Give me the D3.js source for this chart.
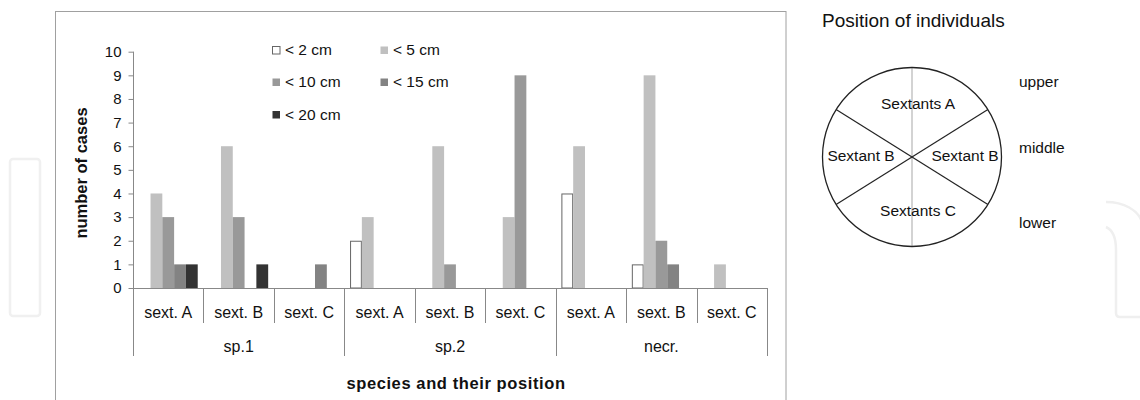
<!DOCTYPE html>
<html>
<head>
<meta charset="utf-8">
<script src="https://cdn.jsdelivr.net/npm/d3@7"></script>
<style>
html,body{margin:0;padding:0;background:#fff;}
svg{display:block;font-family:"Liberation Sans",Arial,sans-serif;}
</style>
</head>
<body>
<svg id="chart" width="1140" height="400"></svg>
<script>
const groups = ["sp.1", "sp.2", "necr."];
const positions = ["sext. A", "sext. B", "sext. C"];
const seriesNames = ["< 2 cm", "< 5 cm", "< 10 cm", "< 15 cm", "< 20 cm"];
const seriesColors = ["#ffffff", "#c0c0c0", "#999999", "#838383", "#333333"];
const lt2  = [0, 0, 0, 2, 0, 0, 4, 1, 0];
const lt5  = [4, 6, 0, 3, 6, 3, 6, 9, 1];
const lt10 = [3, 3, 0, 0, 1, 9, 0, 2, 0];
const lt15 = [1, 0, 1, 0, 0, 0, 0, 1, 0];
const lt20 = [1, 1, 0, 0, 0, 0, 0, 0, 0];
const yTicks = [0, 1, 2, 3, 4, 5, 6, 7, 8, 9, 10];
const diagramTitle = "Position of individuals";
const sextantLabels = ["Sextants A", "Sextant B", "Sextant B", "Sextants C"];
const levelLabels = ["upper", "middle", "lower"];

const seriesValues = [lt2, lt5, lt10, lt15, lt20];
const cats = [];
groups.forEach(g => positions.forEach(p => cats.push(g + "|" + p)));

const svg = d3.select("#chart");

// faint watermark shapes
svg.append("rect").attr("x", 10).attr("y", 159).attr("width", 30).attr("height", 157)
  .attr("rx", 3).attr("fill", "none").attr("stroke", "#f0f0f0").attr("stroke-width", 2.5);
svg.append("path").attr("d", "M1106,202 C1124,202 1138,210 1142,222")
  .attr("fill", "none").attr("stroke", "#efefef").attr("stroke-width", 2.5);
svg.append("path").attr("d", "M1106,227 C1113,230 1116,238 1116,250 L1116,313 Q1116,317 1120,317 L1142,317")
  .attr("fill", "none").attr("stroke", "#efefef").attr("stroke-width", 2.5);

// frame
svg.append("rect").attr("x", 55.5).attr("y", 11.5).attr("width", 730.5).attr("height", 400)
  .attr("fill", "none").attr("stroke", "#a0a0a0").attr("stroke-width", 1);

const x0 = 133, x1 = 767, yBase = 288;
const xCat = d3.scaleBand().domain(cats).range([x0, x1]).paddingInner(0).paddingOuter(0);
const xSer = d3.scaleBand().domain(seriesNames).range([0, xCat.bandwidth()]).paddingInner(0).paddingOuter(0.485);
const xGroup = d3.scaleBand().domain(groups).range([x0, x1]).paddingInner(0).paddingOuter(0);
const y = d3.scaleLinear().domain([0, 10]).range([yBase, 51.7]);

// bars
seriesNames.forEach((s, si) => {
  const data = seriesValues[si].map((v, i) => ({cat: cats[i], v}));
  svg.append("g").selectAll("rect").data(data.filter(d => d.v > 0)).enter().append("rect")
    .attr("x", d => xCat(d.cat) + xSer(s) + (si === 0 ? 0.5 : 0))
    .attr("y", d => y(d.v) + (si === 0 ? 0.5 : 0))
    .attr("width", xSer.bandwidth() - (si === 0 ? 1 : 0))
    .attr("height", d => yBase - y(d.v) - (si === 0 ? 0.5 : 0))
    .attr("fill", seriesColors[si])
    .attr("stroke", si === 0 ? "#666" : "none")
    .attr("stroke-width", 1);
});

// y axis
const yAxis = d3.axisLeft(y).tickValues(yTicks).tickSize(5).tickPadding(7).tickFormat(d3.format("d"));
const gy = svg.append("g").attr("transform", `translate(${x0 + 0.5},0)`).call(yAxis);
gy.select(".domain").remove();
gy.selectAll(".tick line").attr("stroke", "#888");
gy.selectAll(".tick text").attr("font-size", 15).attr("fill", "#111")
  .attr("font-family", "'Liberation Sans', Arial, sans-serif");
svg.append("line").attr("x1", x0 + 0.5).attr("x2", x0 + 0.5).attr("y1", y(10)).attr("y2", 356)
  .attr("stroke", "#888");

// x axis baseline
svg.append("line").attr("x1", x0).attr("x2", x1 + 0.5).attr("y1", yBase + 0.5).attr("y2", yBase + 0.5)
  .attr("stroke", "#888");

// category separators
cats.forEach((c, i) => {
  if (i === 0) return;
  const xx = Math.round(xCat(c)) + 0.5;
  const isGroup = i % positions.length === 0;
  svg.append("line").attr("x1", xx).attr("x2", xx).attr("y1", yBase).attr("y2", isGroup ? 356 : 323)
    .attr("stroke", "#888");
});
svg.append("line").attr("x1", x1 + 0.5).attr("x2", x1 + 0.5).attr("y1", yBase).attr("y2", 356)
  .attr("stroke", "#888");

// category labels
svg.append("g").selectAll("text").data(cats).enter().append("text")
  .attr("x", d => xCat(d) + xCat.bandwidth() / 2)
  .attr("y", 312).attr("dy", "0.35em").attr("text-anchor", "middle")
  .attr("font-size", 16).attr("fill", "#111")
  .text(d => d.split("|")[1]);
svg.append("g").selectAll("text").data(groups).enter().append("text")
  .attr("x", d => xGroup(d) + xGroup.bandwidth() / 2)
  .attr("y", 346).attr("dy", "0.35em").attr("text-anchor", "middle")
  .attr("font-size", 16).attr("fill", "#111")
  .text(d => d);

// axis titles
svg.append("text").attr("x", 456).attr("y", 383).attr("dy", "0.35em").attr("text-anchor", "middle")
  .attr("font-size", 16.5).attr("font-weight", "bold").attr("letter-spacing", 0.6).attr("fill", "#111")
  .text("species and their position");
svg.append("text").attr("transform", "translate(81,173) rotate(-90)").attr("dy", "0.35em")
  .attr("text-anchor", "middle").attr("font-size", 16.5).attr("font-weight", "bold").attr("fill", "#111")
  .text("number of cases");

// legend
const legPos = [[272, 50], [380, 50], [272, 82], [380, 82], [272, 114.5]];
seriesNames.forEach((s, i) => {
  const [lx, ly] = legPos[i];
  svg.append("rect").attr("x", lx + 0.5).attr("y", ly - 3.5).attr("width", 7.5).attr("height", 7.5)
    .attr("fill", seriesColors[i]).attr("stroke", i === 0 ? "#666" : "none");
  svg.append("text").attr("x", lx + 13).attr("y", ly).attr("dy", "0.35em")
    .attr("font-size", 15.5).attr("fill", "#111").text(s);
});

// right diagram
const cx = 912, cy = 157, r = 89.5;
svg.append("text").attr("x", 822).attr("y", 27).attr("font-size", 19).attr("fill", "#111").text(diagramTitle);
svg.append("line").attr("x1", cx).attr("x2", cx).attr("y1", cy - r).attr("y2", cy + r)
  .attr("stroke", "#c4c4c4").attr("stroke-width", 1.5);
const ang = 32 * Math.PI / 180;
[[-1, -1], [1, -1]].forEach(([sx, sy]) => {
  svg.append("line")
    .attr("x1", cx + sx * r * Math.cos(ang)).attr("y1", cy + sy * r * Math.sin(ang))
    .attr("x2", cx - sx * r * Math.cos(ang)).attr("y2", cy - sy * r * Math.sin(ang))
    .attr("stroke", "#222").attr("stroke-width", 1.2);
});
svg.append("circle").attr("cx", cx).attr("cy", cy).attr("r", r)
  .attr("fill", "none").attr("stroke", "#222").attr("stroke-width", 1.3);
const sextPos = [[918, 104], [861, 156], [965, 156], [918, 211]];
sextantLabels.forEach((t, i) => {
  svg.append("text").attr("x", sextPos[i][0]).attr("y", sextPos[i][1]).attr("dy", "0.35em")
    .attr("text-anchor", "middle").attr("font-size", 15.5).attr("fill", "#111").text(t);
});
const levelY = [82, 148, 223];
levelLabels.forEach((t, i) => {
  svg.append("text").attr("x", 1019).attr("y", levelY[i]).attr("dy", "0.35em")
    .attr("font-size", 15.5).attr("fill", "#111").text(t);
});
</script>
</body>
</html>
